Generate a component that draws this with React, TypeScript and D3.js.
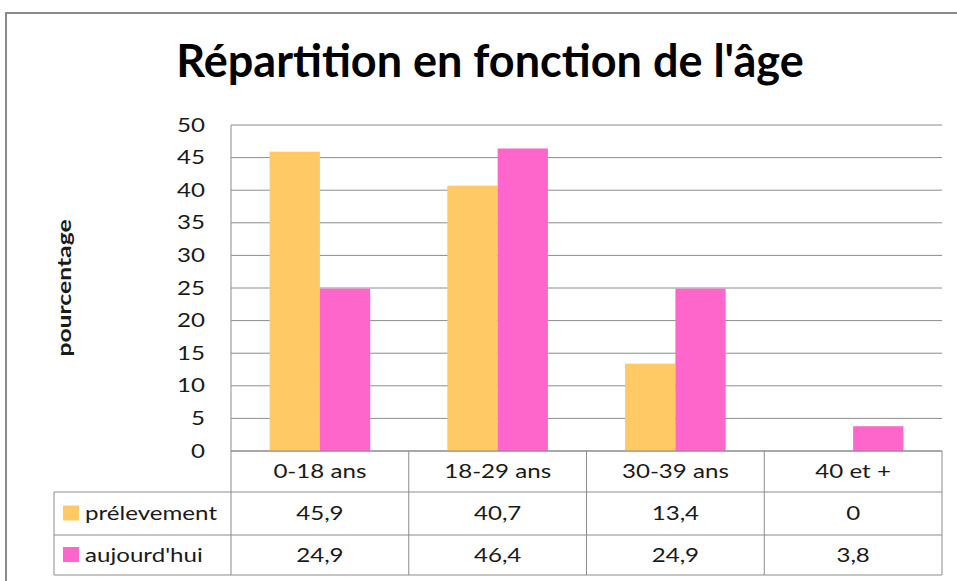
import React from "react";
import * as d3 from "d3";

const categories = ["0-18 ans", "18-29 ans", "30-39 ans", "40 et +"];
const seriesNames = ["prélevement", "aujourd'hui"];
const prelevement = [45.9, 40.7, 13.4, 0];
const aujourdhui = [24.9, 46.4, 24.9, 3.8];
const yTicks = [0, 5, 10, 15, 20, 25, 30, 35, 40, 45, 50];
const colors = ["#FFC966", "#FF66CC"];

const FONT = "Lato, 'Open Sans', sans-serif";
const SX = 1.27;

function SText(props: {
  x: number;
  y: number;
  anchor?: "start" | "middle" | "end";
  size?: number;
  weight?: number;
  rotate?: number;
  sx?: number;
  children: React.ReactNode;
}) {
  const { x, y, anchor = "start", size = 19, weight = 400, rotate = 0, sx = SX, children } = props;
  return (
    <text
      transform={`translate(${x},${y}) rotate(${rotate}) scale(${sx},1)`}
      textAnchor={anchor}
      dy="0.35em"
      fontSize={size}
      fontWeight={weight}
      fill="#1a1a1a"
    >
      {children}
    </text>
  );
}

export default function App() {
  const W = 957, H = 581;
  const left = 231, right = 942, top = 125, zero = 451;
  const legendLeft = 54;
  const row1 = 492, row2 = 535, row3 = 575;
  const series = [prelevement, aujourdhui];

  const x = d3.scaleBand<string>().domain(categories).range([left, right]).paddingInner(0).paddingOuter(0);
  const bw = x.bandwidth();
  const pairW = 100.6;
  const inner = d3.scaleBand<number>().domain([0, 1]).range([0, pairW]);
  const y = d3.scaleLinear().domain([0, 50]).range([zero, top]);
  const grid = "#8C8C8C";

  return (
    <svg width={W} height={H} style={{ position: "absolute", left: 0, top: 0, background: "#fff" }} fontFamily={FONT}>
      <rect x={0} y={0} width={W} height={H} fill="#fff" />
      {/* outer frame */}
      <path d={`M6,${H} L6,13 L${W},13`} fill="none" stroke="#8A8A8A" strokeWidth={2} />
      <text x={490} y={77} textAnchor="middle" fontSize={45} fontWeight={700} fill="#000">
        Répartition en fonction de l'âge
      </text>
      <SText x={64} y={288} anchor="middle" weight={700} rotate={-90} sx={1.3}>
        pourcentage
      </SText>
      {/* gridlines */}
      {yTicks.map((t) => (
        <g key={t}>
          <line x1={left} x2={right} y1={y(t)} y2={y(t)} stroke={grid} strokeWidth={1} />
          <SText x={205} y={y(t)} anchor="end">
            {t}
          </SText>
        </g>
      ))}
      <line x1={left} x2={left} y1={top} y2={zero} stroke={grid} />
      {/* bars */}
      {categories.map((c, i) =>
        series.map((s, k) => {
          const x0 = (x(c) as number) + (bw - pairW) / 2 + (inner(k) as number);
          return (
            <rect key={c + k} x={x0} y={y(s[i])} width={inner.bandwidth()} height={zero - y(s[i])} fill={colors[k]} />
          );
        })
      )}
      {/* table */}
      <g stroke={grid} strokeWidth={1} fill="none">
        <line x1={left} x2={right} y1={zero} y2={zero} />
        <line x1={legendLeft} x2={right} y1={row1} y2={row1} />
        <line x1={legendLeft} x2={right} y1={row2} y2={row2} />
        <line x1={legendLeft} x2={right} y1={row3} y2={row3} />
        <line x1={legendLeft} x2={legendLeft} y1={row1} y2={row3} />
        {categories.map((c) => (
          <line key={c} x1={x(c)} x2={x(c)} y1={zero} y2={row3} />
        ))}
        <line x1={right} x2={right} y1={zero} y2={row3} />
      </g>
      {categories.map((c) => (
        <SText key={c} x={(x(c) as number) + bw / 2} y={(zero + row1) / 2} anchor="middle">
          {c}
        </SText>
      ))}
      {series.map((s, k) => {
        const r0 = k === 0 ? row1 : row2;
        const r1 = k === 0 ? row2 : row3;
        const cy = (r0 + r1) / 2;
        return (
          <g key={k}>
            <rect x={63} y={cy - 8} width={16} height={15} fill={colors[k]} />
            <SText x={85} y={cy}>
              {seriesNames[k]}
            </SText>
            {categories.map((c, i) => (
              <SText key={c} x={(x(c) as number) + bw / 2} y={cy} anchor="middle">
                {String(s[i]).replace(".", ",")}
              </SText>
            ))}
          </g>
        );
      })}
    </svg>
  );
}
